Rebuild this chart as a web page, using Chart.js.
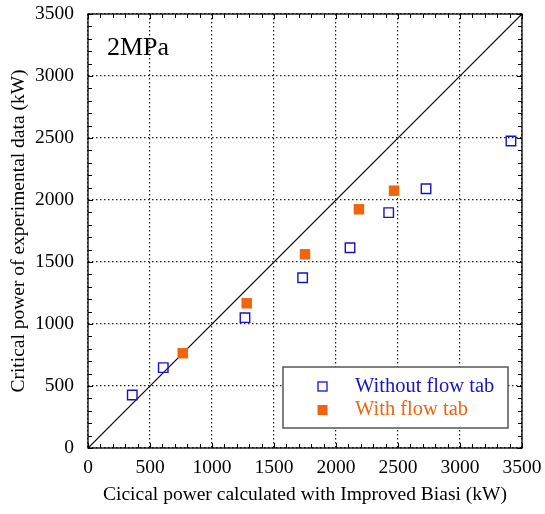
<!DOCTYPE html>
<html>
<head>
<meta charset="utf-8">
<script src="https://cdn.jsdelivr.net/npm/chart.js@4/dist/chart.umd.min.js"></script>
<style>
  html, body { margin: 0; padding: 0; background: #fff; }
  #wrap { width: 545px; height: 514px; }
</style>
</head>
<body>
<div id="wrap"><canvas id="chart" width="545" height="514"></canvas></div>
<script>
// measured vs. calculated critical power, 2 MPa
const withoutTabX = [357, 607, 1266, 1731, 2113, 2425, 2726, 3411];
const withoutTabY = [427, 648, 1051, 1373, 1615, 1898, 2091, 2476];
const withTabX = [764, 1280, 1750, 2185, 2468];
const withTabY = [764, 1167, 1562, 1925, 2075];
const axisTicks = [0, 500, 1000, 1500, 2000, 2500, 3000, 3500];
const seriesLabels = ['Without flow tab', 'With flow tab'];
const pressureLabel = '2MPa';

const BLUE = '#1414c8';
const ORANGE = '#f0640f';
const SERIF = "'Liberation Serif', 'Times New Roman', serif";

const toPoints = (xs, ys) => xs.map((x, i) => ({ x, y: ys[i] }));

// inward ticks on all four sides, frame, legend box and pressure label
const framePlugin = {
    id: 'frame',
    afterDatasetsDraw(chart) {
        const { ctx, chartArea: a, scales } = chart;
        ctx.save();
        ctx.strokeStyle = '#000';
        ctx.lineWidth = 1;
        ctx.beginPath();
        for (let v = 0; v <= 3500; v += 100) {
            const len = v % 500 === 0 ? 5 : 4;
            const px = Math.round(scales.x.getPixelForValue(v)) + 0.5;
            ctx.moveTo(px, a.bottom); ctx.lineTo(px, a.bottom - len);
            ctx.moveTo(px, a.top); ctx.lineTo(px, a.top + len);
            const py = Math.round(scales.y.getPixelForValue(v)) + 0.5;
            ctx.moveTo(a.left, py); ctx.lineTo(a.left + len, py);
            ctx.moveTo(a.right, py); ctx.lineTo(a.right - len, py);
        }
        ctx.stroke();
        ctx.lineWidth = 1.3;
        ctx.strokeRect(a.left, a.top, a.right - a.left, a.bottom - a.top);

        // legend
        const lx = 283, ly = 367, lw = 225, lh = 61;
        ctx.fillStyle = '#fff';
        ctx.fillRect(lx, ly, lw, lh);
        ctx.strokeStyle = '#555';
        ctx.lineWidth = 1.5;
        ctx.strokeRect(lx, ly, lw, lh);
        ctx.strokeStyle = BLUE;
        ctx.lineWidth = 1.3;
        ctx.strokeRect(318, 382, 9, 9);
        ctx.fillStyle = ORANGE;
        ctx.fillRect(317.5, 405, 10, 10);
        ctx.font = '20.5px ' + SERIF;
        ctx.textBaseline = 'middle';
        ctx.textAlign = 'left';
        ctx.fillStyle = BLUE;
        ctx.fillText(seriesLabels[0], 355, 387);
        ctx.fillStyle = ORANGE;
        ctx.fillText(seriesLabels[1], 355, 410);

        ctx.fillStyle = '#000';
        ctx.font = '26px ' + SERIF;
        ctx.textBaseline = 'alphabetic';
        ctx.fillText(pressureLabel, 107, 55);
        ctx.restore();
    }
};

const axisCommon = (title, titlePadding) => ({
    type: 'linear',
    min: 0,
    max: 3500,
    afterBuildTicks: (scale) => { scale.ticks = axisTicks.map(v => ({ value: v })); },
    grid: {
        color: '#222',
        lineWidth: 1.2,
        drawTicks: false,
        tickLength: 0
    },
    border: { display: false, dash: [1.5, 2.5] },
    ticks: {
        color: '#000',
        font: { family: SERIF, size: 19.5 },
        padding: 14,
        maxRotation: 0,
        callback: (v) => String(v)
    },
    title: {
        display: true,
        text: title,
        color: '#000',
        font: { family: SERIF, size: 19.5 },
        padding: titlePadding
    }
});

const xAxis = axisCommon('Cicical power calculated with Improved Biasi (kW)', { top: 0, bottom: 7 });
xAxis.ticks.padding = 8;
xAxis.afterFit = (scale) => {
    scale.height = 66;
    scale.paddingLeft = 0;
    scale.paddingRight = 0;
};
const yAxis = axisCommon('Critical power of experimental data (kW)', { top: 7, bottom: 0 });
yAxis.afterFit = (scale) => {
    scale.width = 88;
    scale.paddingTop = 0;
    scale.paddingBottom = 0;
};

new Chart(document.getElementById('chart'), {
    type: 'scatter',
    data: {
        datasets: [
            {
                type: 'line',
                label: 'y = x',
                data: toPoints([0, 3500], [0, 3500]),
                borderColor: '#000',
                borderWidth: 1.2,
                pointRadius: 0,
                order: 3
            },
            {
                label: seriesLabels[0],
                data: toPoints(withoutTabX, withoutTabY),
                pointStyle: 'rect',
                pointRadius: 6.7,
                backgroundColor: 'rgba(255,255,255,0)',
                borderColor: BLUE,
                borderWidth: 1.4,
                order: 2
            },
            {
                label: seriesLabels[1],
                data: toPoints(withTabX, withTabY),
                pointStyle: 'rect',
                pointRadius: 7.4,
                backgroundColor: ORANGE,
                borderColor: ORANGE,
                borderWidth: 0,
                order: 1
            }
        ]
    },
    options: {
        responsive: false,
        animation: false,
        layout: { padding: { top: 14, right: 23, left: 0, bottom: 0 } },
        plugins: {
            legend: { display: false },
            tooltip: { enabled: false }
        },
        scales: {
            x: xAxis,
            y: yAxis
        }
    },
    plugins: [framePlugin]
});
</script>
</body>
</html>
